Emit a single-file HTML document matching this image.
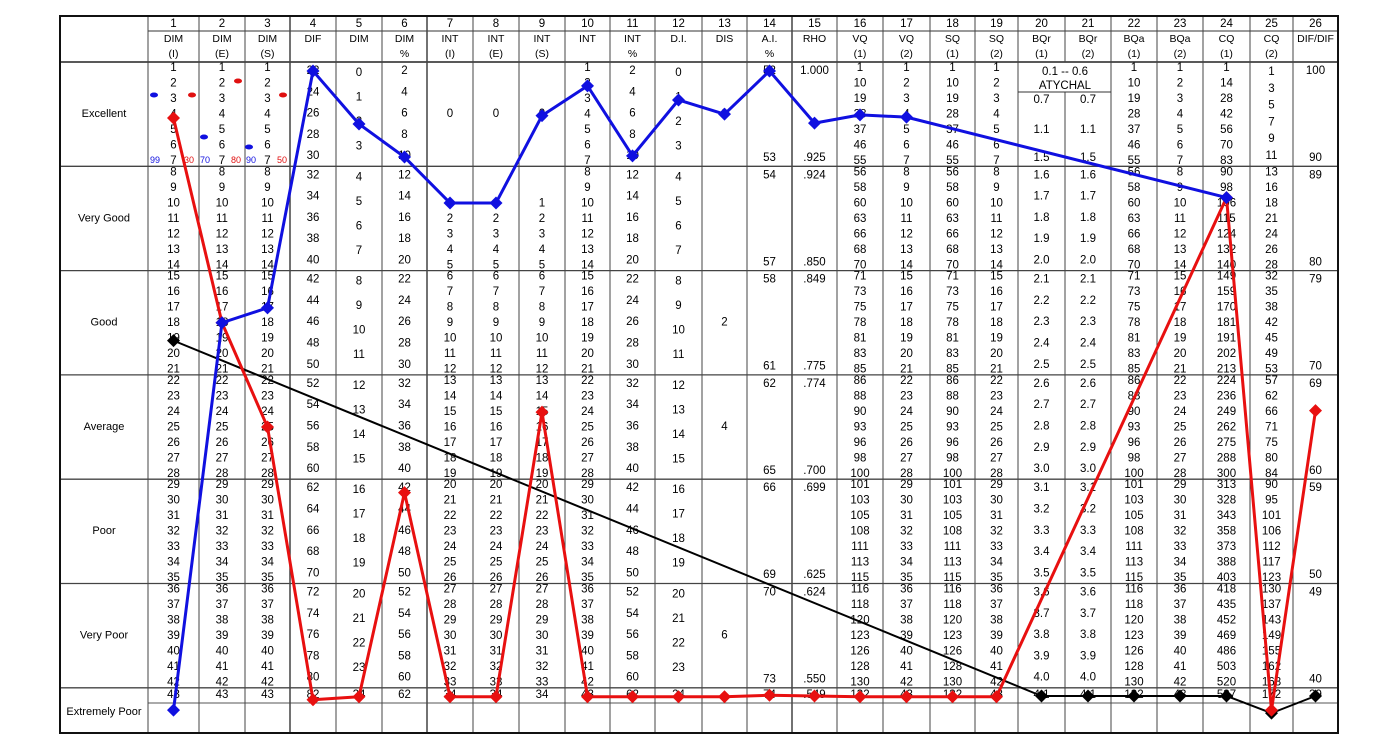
<!DOCTYPE html>
<html><head><meta charset="utf-8"><style>
html,body{margin:0;padding:0;background:#fff;}
svg{display:block;font-family:"Liberation Sans",sans-serif;}
</style></head><body>
<svg id="chart" width="1400" height="749" viewBox="0 0 1400 749" xmlns="http://www.w3.org/2000/svg"></svg>
<script>
// ---- chart data ----
const columnIds = ['1','2','3','4','5','6','7','8','9','10','11','12','13','14','15','16','17','18','19','20','21','22','23','24','25','26'];
const headerLine1 = ['DIM','DIM','DIM','DIF','DIM','DIM','INT','INT','INT','INT','INT','D.I.','DIS','A.I.','RHO','VQ','VQ','SQ','SQ','BQr','BQr','BQa','BQa','CQ','CQ','DIF/DIF'];
const headerLine2 = ['(I)','(E)','(S)','','','%','(I)','(E)','(S)','','%','','','%','','(1)','(2)','(1)','(2)','(1)','(2)','(1)','(2)','(1)','(2)',''];
const bandLabels = ['Excellent','Very Good','Good','Average','Poor','Very Poor','Extremely Poor'];
// series values expressed on the common rank scale (1..44)
const blueRank  = [44,18,17,1.1,4.66,6.88,9.96,9.96,4.1,2.1,6.8,3.05,4.0,1.1,4.6,4.05,4.2,null,null,null,null,null,null,9.6,null,null];
const redRank   = [4.26,18,25,43.3,43.1,29.4,43.1,43.1,24,43.1,43.1,43.1,43.1,43.0,43.05,43.1,43.1,43.1,43.1,null,null,null,null,9.6,44,23.9];
const blackRank = [19.2,null,null,null,null,null,null,null,null,null,null,null,null,null,null,null,null,null,null,43.05,43.05,43.05,43.05,43.05,44.2,43.05];

// ---- layout ----
const SVGNS='http://www.w3.org/2000/svg';
const svg=document.getElementById('chart');
const colEdges=[148,199,245,290,336,382,427,473,519,565,610,655,702,747,792,837,883,930,975,1018,1065,1111,1157,1203,1250,1293,1338];
const bandH=104.3, top0=62;
function cx(i){return (colEdges[i]+colEdges[i+1])/2;}
function yRank(r){return top0+(r-0.5)*(bandH/7);}
function bt(b){return top0+b*bandH;}
function mk(tag,attrs){const e=document.createElementNS(SVGNS,tag);for(const k in attrs)e.setAttribute(k,attrs[k]);svg.appendChild(e);return e;}
function txt(x,y,s,opt){opt=opt||{};const t=mk('text',{x:x,y:y,'text-anchor':'middle','dominant-baseline':'central','font-size':opt.size||11.5,fill:opt.fill||'#000'});
 t.textContent=s;
 
 
 return t;}
function line(x1,y1,x2,y2,w,c,name){const l=mk('line',{x1:x1,y1:y1,x2:x2,y2:y2,stroke:c||'#444','stroke-width':w||1});
 
 
 return l;}

// grid
for(let b=1;b<=6;b++) line(60,bt(b),1338,bt(b),1.3,'#444');
line(148,31,1338,31,1,'#333');
line(60,62,1338,62,1.5,'#222');
line(148,703,1338,703,1,'#555');
for(let i=0;i<colEdges.length;i++){
 if(i===20){line(colEdges[i],16,colEdges[i],62,1,'#444');line(colEdges[i],92,colEdges[i],733,1,'#444');}
 else line(colEdges[i],16,colEdges[i],733,(i===3||i===6||i===14)?1.5:1,'#444');
}
line(1018,92,1111,92,1,'#333');
const border=mk('rect',{x:60,y:16,width:1278,height:717,fill:'none',stroke:'#111','stroke-width':2});



// headers
for(let i=0;i<26;i++){
 txt(cx(i),24,columnIds[i],{name:'column-number'});
 txt(cx(i),39,headerLine1[i],{size:10.5,name:'column-header'});
 if(headerLine2[i])txt(cx(i),54,headerLine2[i],{size:10.5,name:'column-subheader'});
}
// band labels
bandLabels.forEach((s,b)=>{txt(104,b<6?bt(b)+52:712,s,{size:11,name:'band-label'});});

// cell contents
function rng(a,n,s){const r=[];for(let k=0;k<n;k++)r.push(String(a+k*s));return r;}
const vq=[['1','10','19','28','37','46','55'],['56','58','60','63','66','68','70'],['71','73','75','78','81','83','85'],['86','88','90','93','96','98','100'],['101','103','105','108','111','113','115'],['116','118','120','123','126','128','130']];
const cq1=[['1','14','28','42','56','70','83'],['90','98','106','115','124','132','140'],['149','159','170','181','191','202','213'],['224','236','249','262','275','288','300'],['313','328','343','358','373','388','403'],['418','435','452','469','486','503','520']];
const cq2=[['13','16','18','21','24','26','28'],['32','35','38','42','45','49','53'],['57','62','66','71','75','80','84'],['90','95','101','106','112','117','123'],['130','137','143','149','155','162','168']];
const aiPairs=[['52','53'],['54','57'],['58','61'],['62','65'],['66','69'],['70','73']];
const rhoPairs=[['1.000','.925'],['.924','.850'],['.849','.775'],['.774','.700'],['.699','.625'],['.624','.550']];
const difPairs=[['100','90'],['89','80'],['79','70'],['69','60'],['59','50'],['49','40']];
function put7(i,b,arr){arr.forEach((s,k)=>{if(s)txt(cx(i),bt(b)+6+k*15.5,s);});}
function put5(i,b,arr){arr.forEach((s,k)=>{if(s)txt(cx(i),bt(b)+9+k*21.3,s);});}
function put4(i,b,arr){arr.forEach((s,k)=>{if(s)txt(cx(i),bt(b)+11+k*24.5,s);});}
function put2(i,b,a,c){txt(cx(i),bt(b)+9,a);txt(cx(i),bt(b)+96,c);}
function ep(i,s){txt(cx(i),695,s);}
for(let i=0;i<26;i++){
 const c=i+1;
 for(let b=0;b<6;b++){
  if([1,2,3,10,17,19,23].includes(c)) put7(i,b,rng(7*b+1,7,1));
  else if(c===4) put5(i,b,rng(22+10*b,5,2));
  else if(c===6||c===11) put5(i,b,rng(2+10*b,5,2));
  else if(c===5||c===12) put4(i,b,rng(4*b,4,1));
  else if(c===7||c===8||c===9){
   if(b===0) txt(cx(i),bt(0)+52,'0');
   else if(b===1) put7(i,1,c===9?['','','1','2','3','4','5']:['','','','2','3','4','5']);
   else put7(i,b,rng(7*b-8,7,1));
  }
  else if(c===13){const m={0:'0',2:'2',3:'4',5:'6'};if(m[b])txt(cx(i),bt(b)+52,m[b]);}
  else if(c===14) put2(i,b,aiPairs[b][0],aiPairs[b][1]);
  else if(c===15) put2(i,b,rhoPairs[b][0],rhoPairs[b][1]);
  else if(c===16||c===18||c===22) put7(i,b,vq[b]);
  else if(c===20||c===21){
   if(b===0){txt(cx(i),100,'0.7');txt(cx(i),130,'1.1');txt(cx(i),158,'1.5');}
   else put5(i,b,[0,1,2,3,4].map(k=>(1.1+0.5*b+0.1*k).toFixed(1)));
  }
  else if(c===24) put7(i,b,cq1[b]);
  else if(c===25){ if(b===0){['1','3','5','7','9','11'].forEach((s,k)=>txt(cx(i),72+k*16.8,s));} else put7(i,b,cq2[b-1]); }
  else if(c===26) put2(i,b,difPairs[b][0],difPairs[b][1]);
 }
 const epv={1:'43',2:'43',3:'43',4:'82',5:'24',6:'62',7:'34',8:'34',9:'34',10:'43',11:'62',12:'24',14:'74',15:'.549',16:'132',17:'43',18:'132',19:'43',20:'4.1',21:'4.1',22:'132',23:'43',24:'537',25:'172',26:'39'};
 if(epv[c])ep(i,epv[c]);
}
txt(1065,72,'0.1   --   0.6',{name:'bqr-range'});
txt(1065,86,'ATYCHAL',{name:'bqr-atychal'});

// small legend markers in DIM columns
const legendBlue=[[154,95],[204,137],[249,147]], legendRed=[[192,95],[238,81],[283,95]];
legendBlue.forEach(p=>{const e=mk('ellipse',{cx:p[0],cy:p[1],rx:4,ry:2.5,fill:'#1010e0'});});
legendRed.forEach(p=>{const e=mk('ellipse',{cx:p[0],cy:p[1],rx:4,ry:2.5,fill:'#e01010'});});
[['99',155,'#1010e0'],['30',189,'#e01010'],['70',205,'#1010e0'],['80',236,'#e01010'],['90',251,'#1010e0'],['50',282,'#e01010']].forEach(a=>{txt(a[1],160,a[0],{size:9,fill:a[2],name:'legend-number'});});

// series
function drawSeries(vals,color,w,name){
 const pts=[];vals.forEach((v,i)=>{if(v!==null)pts.push([cx(i),yRank(v)]);});
 const pl=mk('polyline',{points:pts.map(p=>p.join(',')).join(' '),fill:'none',stroke:color,'stroke-width':w,'stroke-linejoin':'round'});
 
 
 pts.forEach(p=>{const d=6.5;const m=mk('polygon',{points:`${p[0]},${p[1]-d} ${p[0]+d},${p[1]} ${p[0]},${p[1]+d} ${p[0]-d},${p[1]}`,fill:color});
  
  });
}
drawSeries(blackRank,'#000',2,'black-series');
drawSeries(redRank,'#e81010',3,'red-series');
drawSeries(blueRank,'#1010e0',3,'blue-series');
</script>
</body></html>
